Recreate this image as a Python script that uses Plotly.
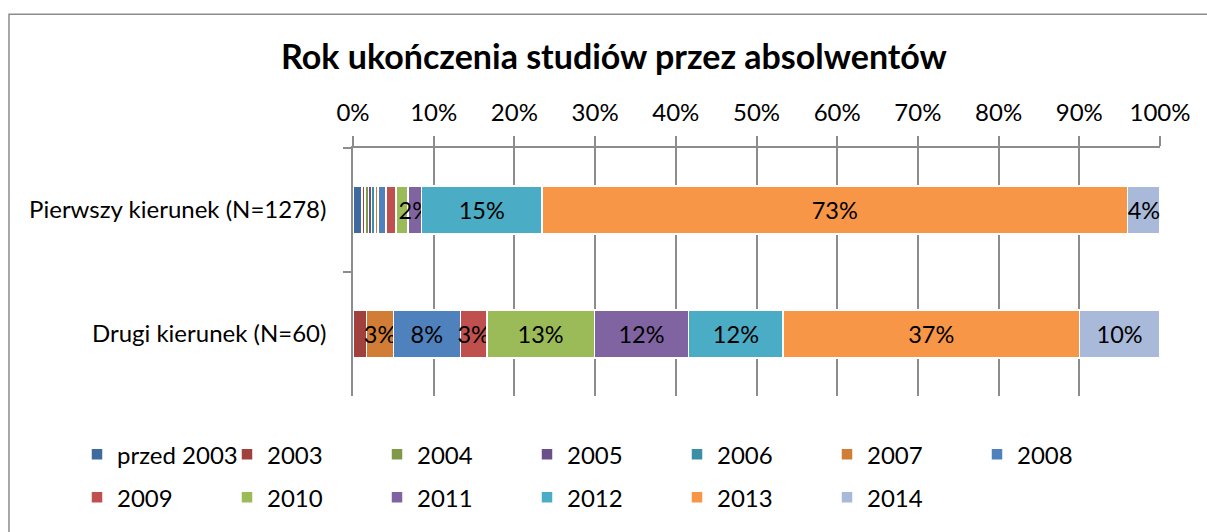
import plotly.graph_objects as go

# categories (top to bottom)
categories = ["Pierwszy kierunek (N=1278)", "Drugi kierunek (N=60)"]

years = ["przed 2003", "2003", "2004", "2005", "2006", "2007", "2008",
         "2009", "2010", "2011", "2012", "2013", "2014"]

# share of graduates (%) per year, [Pierwszy, Drugi]
pierwszy = [1.1, 0.4, 0.4, 0.4, 0.4, 0.4, 1.0, 1.2, 1.5, 1.7, 14.9, 72.6, 4.0]
drugi = [0.0, 1.7, 0.0, 0.0, 0.0, 3.3, 8.3, 3.3, 13.3, 11.7, 11.7, 36.7, 10.0]

# data labels shown on the chart ("" = no label)
labels_pierwszy = ["", "", "", "", "", "", "", "", "", "2%", "15%", "73%", "4%"]
labels_drugi = ["", "", "", "", "", "3%", "8%", "3%", "13%", "12%", "12%", "37%", "10%"]

colors = ["#3E6A9F", "#A0413D", "#7E9A48", "#6A4F8A", "#3A8FA6", "#D17D36",
          "#4F81BD", "#C0504D", "#9BBB59", "#8064A2", "#4BACC6", "#F79646",
          "#A9B9D9"]

FONT = "Lato"
SIZE = 24

fig = go.Figure()

for i, year in enumerate(years):
    fig.add_trace(go.Bar(
        name=year,
        y=categories,
        x=[pierwszy[i], drugi[i]],
        orientation="h",
        marker=dict(color=colors[i], line=dict(color="white", width=1.5)),
        text=[labels_pierwszy[i], labels_drugi[i]],
        textposition="inside",
        insidetextanchor="middle",
        textangle=0,
        constraintext="none",
        textfont=dict(family=FONT, size=23.5, color="black"),
        hoverinfo="skip",
        legend="legend" if i < 7 else "legend2",
    ))

legend_common = dict(
    orientation="h",
    xanchor="left",
    yanchor="middle",
    traceorder="normal",
    entrywidth=105,
    entrywidthmode="pixels",
    font=dict(family=FONT, size=SIZE, color="black"),
    bgcolor="rgba(0,0,0,0)",
)

fig.update_layout(
    width=1207,
    height=532,
    barmode="stack",
    bargap=0.61,
    paper_bgcolor="white",
    plot_bgcolor="white",
    margin=dict(l=353, r=47, t=148, b=130),
    title=dict(
        text="<b>Rok ukończenia studiów przez absolwentów</b>",
        x=614 / 1207, xref="container", xanchor="center",
        y=1 - 57 / 532, yanchor="middle",
        font=dict(family=FONT, size=34, color="black"),
    ),
    legend=dict(x=(77 - 353) / 807, y=(402 - 462) / 254, **legend_common),
    legend2=dict(x=(77 - 353) / 807, y=(402 - 506) / 254, **legend_common),
    showlegend=True,
    font=dict(family=FONT, color="black"),
)

fig.update_xaxes(
    side="top",
    range=[0, 100],
    dtick=10,
    ticksuffix="%",
    showgrid=True,
    gridcolor="#8C8C8C",
    gridwidth=1.5,
    showline=True,
    linecolor="#8C8C8C",
    linewidth=1.5,
    ticks="outside",
    ticklen=10,
    tickcolor="#8C8C8C",
    tickwidth=1.5,
    ticklabelstandoff=6,
    tickfont=dict(family=FONT, size=SIZE, color="black"),
    zeroline=False,
    fixedrange=True,
)

fig.update_yaxes(
    autorange="reversed",
    showline=True,
    linecolor="#8C8C8C",
    linewidth=1.5,
    ticks="outside",
    tickson="boundaries",
    ticklen=8,
    tickcolor="#8C8C8C",
    tickwidth=1.5,
    ticklabelstandoff=20,
    tickfont=dict(family=FONT, size=SIZE, color="black"),
    showgrid=False,
    fixedrange=True,
)

# outer chart border
fig.add_shape(
    type="rect", xref="paper", yref="paper",
    x0=(9 - 353) / 807, x1=(1215 - 353) / 807,
    y0=(402 - 545) / 254, y1=(402 - 11) / 254,
    line=dict(color="#8C8C8C", width=1.5),
    layer="below",
)

fig.write_html(
    "out.html",
    config={"displayModeBar": False},
    post_script="document.body.style.margin = '0px';",
)
